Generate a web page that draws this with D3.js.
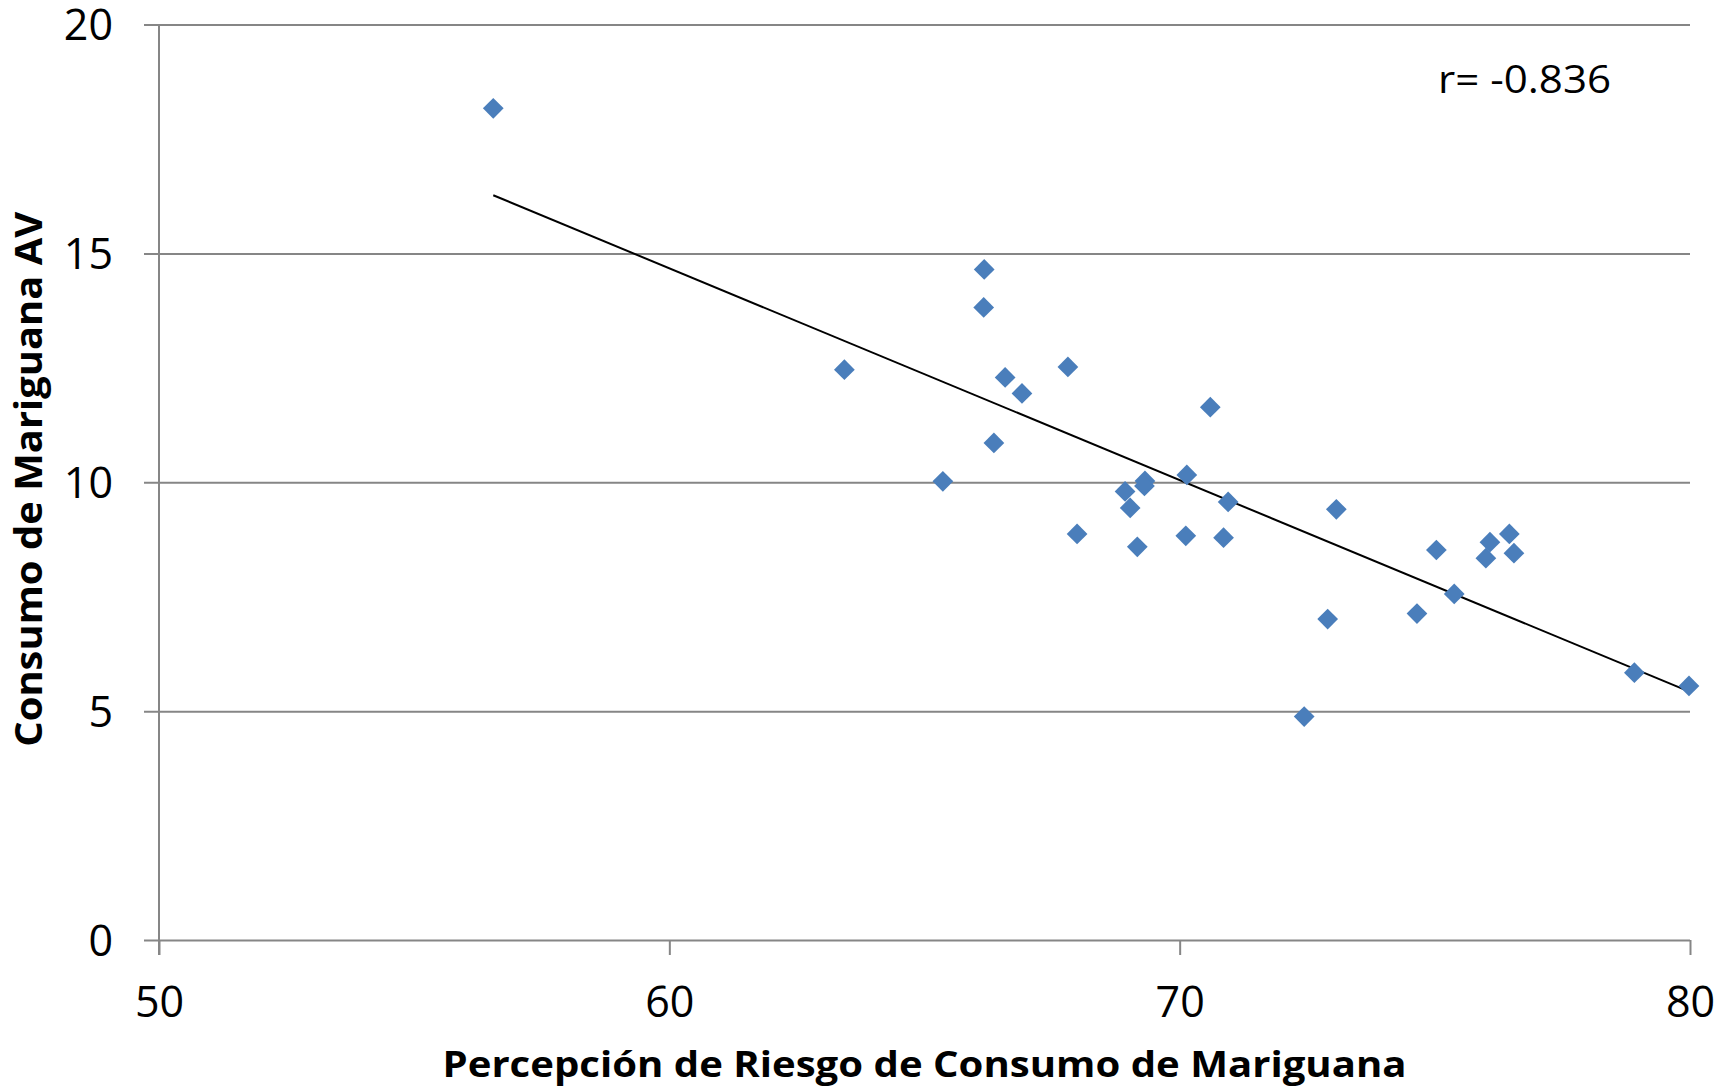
<!DOCTYPE html>
<html>
<head>
<meta charset="utf-8">
<script src="https://cdn.jsdelivr.net/npm/d3@7"></script>
<style>
  html, body { margin: 0; padding: 0; background: #fff; }
  svg { display: block; }
</style>
</head>
<body>
<svg id="chart" width="1733" height="1092"></svg>
<script>
// Data
const riskPerception = [56.55, 66.17, 66.16, 63.43, 66.58, 67.81, 66.91, 70.60, 66.36, 65.36,
  69.32, 70.14, 69.31, 68.93, 70.95, 69.03, 67.99, 70.12, 70.86, 69.17,
  73.07, 75.03, 76.08, 76.46, 76.00, 76.55, 75.38, 72.90, 74.65, 78.91, 79.98, 72.44];
const marijuanaUse = [18.17, 14.65, 13.82, 12.46, 12.29, 12.52, 11.94, 11.64, 10.86, 10.02,
  10.03, 10.16, 9.92, 9.80, 9.57, 9.44, 8.87, 8.83, 8.79, 8.59,
  9.41, 8.52, 8.69, 8.87, 8.34, 8.45, 7.56, 7.01, 7.13, 5.84, 5.55, 4.88];
const trendX = [56.55, 80];
const trendY = [16.27, 5.42];
const xTicks = [50, 60, 70, 80];
const yTicks = [0, 5, 10, 15, 20];
const xTitle = "Percepción de Riesgo de Consumo de Mariguana";
const yTitle = "Consumo de Mariguana AV";
const rLabel = "r= -0.836";

(function () {
const svg = d3.select("#chart");
const mLeft = 159, mRight = 1690, mTop = 24.5, mBottom = 940;
const x = d3.scaleLinear().domain([50, 80]).range([mLeft, mRight]);
const y = d3.scaleLinear().domain([0, 20]).range([mBottom, mTop]);
const grey = "#868686";
const font = "'Open Sans', 'DejaVu Sans', sans-serif";

// Horizontal gridlines via y axis
const yAxis = svg.append("g").attr("transform", `translate(${mLeft},0)`)
  .call(d3.axisLeft(y).tickValues(yTicks).tickSize(15).tickFormat(d3.format("d")));
yAxis.select(".domain").remove();
yAxis.selectAll(".tick line").attr("x2", mRight - mLeft).attr("x1", -15)
  .attr("stroke", grey).attr("stroke-width", 2);
yAxis.selectAll(".tick text").attr("font-family", font).attr("font-size", 43)
  .attr("fill", "#000").attr("x", -46).attr("dy", "0.36em");

// x axis ticks
const xAxis = svg.append("g").attr("transform", `translate(0,${mBottom})`)
  .call(d3.axisBottom(x).tickValues(xTicks).tickSize(15).tickFormat(d3.format("d")));
xAxis.select(".domain").remove();
xAxis.selectAll(".tick line").attr("stroke", grey).attr("stroke-width", 2);
xAxis.selectAll(".tick text").attr("font-family", font).attr("font-size", 43)
  .attr("fill", "#000").attr("y", 77).attr("dy", 0);

// vertical axis line
svg.append("line").attr("x1", mLeft).attr("x2", mLeft).attr("y1", y(20)).attr("y2", mBottom + 15)
  .attr("stroke", grey).attr("stroke-width", 2);

// trend line
svg.append("line")
  .attr("x1", x(trendX[0])).attr("y1", y(trendY[0]))
  .attr("x2", x(trendX[1])).attr("y2", y(trendY[1]))
  .attr("stroke", "#000").attr("stroke-width", 2);

// points
const points = riskPerception.map((v, i) => ({ x: v, y: marijuanaUse[i] }));
const sym = d3.symbol(d3.symbolSquare, 215);
svg.append("g").selectAll("path").data(points).join("path")
  .attr("d", sym)
  .attr("transform", d => `translate(${x(d.x)},${y(d.y)}) rotate(45)`)
  .attr("fill", "#4A7EBB");

// r label
svg.append("text").attr("x", 1438).attr("y", 93)
  .attr("font-family", font).attr("font-size", 39).attr("fill", "#000")
  .attr("textLength", 173).attr("lengthAdjust", "spacingAndGlyphs")
  .text(rLabel);

// axis titles
svg.append("text").attr("x", (mLeft + mRight) / 2).attr("y", 1077)
  .attr("text-anchor", "middle").attr("font-family", font).attr("font-weight", "bold")
  .attr("font-size", 35).attr("fill", "#000")
  .attr("textLength", 964).attr("lengthAdjust", "spacingAndGlyphs")
  .text(xTitle);

svg.append("text").attr("transform", `translate(42,${(mTop + mBottom) / 2 - 3}) rotate(-90)`)
  .attr("text-anchor", "middle").attr("font-family", font).attr("font-weight", "bold")
  .attr("font-size", 37).attr("fill", "#000")
  .attr("textLength", 535).attr("lengthAdjust", "spacingAndGlyphs")
  .text(yTitle);
})();
</script>
</body>
</html>
